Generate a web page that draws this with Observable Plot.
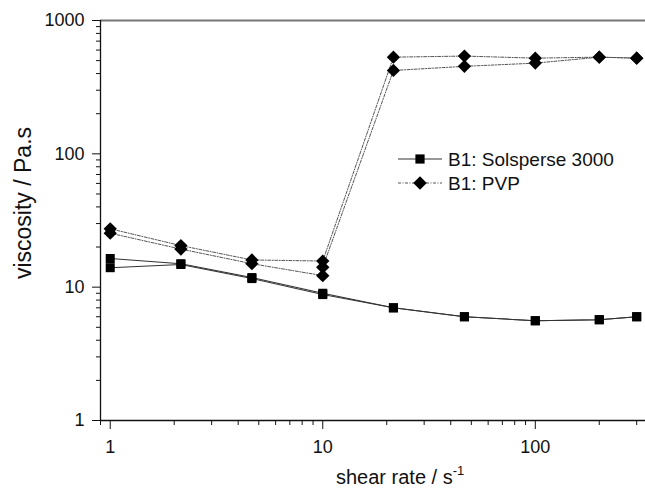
<!DOCTYPE html>
<html>
<head>
<meta charset="utf-8">
<script src="https://cdn.jsdelivr.net/npm/d3@7"></script>
<script src="https://cdn.jsdelivr.net/npm/@observablehq/plot@0.6"></script>
<style>
  html, body { margin: 0; padding: 0; background: white; }
</style>
</head>
<body>
<div id="chart"></div>
<script>
// ---- data ----
const shearRate = [1, 2.15, 4.64, 10, 21.5, 46.4, 100, 200, 300];
const solsperseRun1 = [16.4, 15.0, 11.8, 9.0, 7.0, 6.0, 5.6, 5.7, 6.0];
const solsperseRun2 = [14.0, 14.8, 11.6, 8.8, 7.0, 6.0, 5.6, 5.7, 6.0];
const pvpRate1 = [1, 2.15, 4.64, 10, 21.5, 46.4, 100, 200, 300];
const pvpRun1 = [27.4, 20.5, 16.0, 15.7, 531, 541, 522, 531, 522];
const pvpRate2 = [1, 2.15, 4.64, 10, 10, 21.5, 46.4, 100, 200, 300];
const pvpRun2 = [25.4, 19.3, 15.0, 12.2, 14.1, 422, 453, 479, 531, 522];

const seriesNames = ["B1: Solsperse 3000", "B1: PVP"];
const xDomain = [0.9, 330];
const yDomain = [1, 1000];
const xMajor = [1, 10, 100];
const xMinor = [0.9, 2, 3, 4, 5, 6, 7, 8, 9, 20, 30, 40, 50, 60, 70, 80, 90, 200, 300];
const yMajor = [1, 10, 100, 1000];
const yMinor = [2, 3, 4, 5, 6, 7, 8, 9, 20, 30, 40, 50, 60, 70, 80, 90, 200, 300, 400, 500, 600, 700, 800, 900];
const xLabel = "shear rate / s";
const xLabelSup = "-1";
const yLabel = "viscosity / Pa.s";

// ---- build rows ----
const solsRows = [];
shearRate.forEach((x, i) => solsRows.push({run: "a", x, y: solsperseRun1[i]}));
shearRate.forEach((x, i) => solsRows.push({run: "b", x, y: solsperseRun2[i]}));
const pvpRows = [];
pvpRate1.forEach((x, i) => pvpRows.push({run: "a", x, y: pvpRun1[i]}));
pvpRate2.forEach((x, i) => pvpRows.push({run: "b", x, y: pvpRun2[i]}));

const FONT = "'Liberation Sans', Arial, Helvetica, sans-serif";
const pvpDash = "3,1.5,1,1.5";

const chart = Plot.plot({
  width: 645,
  height: 489,
  marginLeft: 100,
  marginRight: 0,
  marginTop: 20,
  marginBottom: 69,
  style: {fontFamily: FONT, color: "#111", background: "white", overflow: "visible"},
  x: {type: "log", domain: xDomain},
  y: {type: "log", domain: yDomain},
  marks: [
    Plot.ruleY([yDomain[1]], {stroke: "#777", strokeWidth: 2}),
    Plot.axisY(yMajor, {tickSize: 8, tickPadding: 8, fontSize: 18, label: null, tickFormat: d => String(d), stroke: "#111"}),
    Plot.axisY(yMinor, {tickSize: 4, label: null, tickFormat: () => "", stroke: "#111"}),
    Plot.axisX(xMajor, {tickSize: 9, tickPadding: 11, fontSize: 18, label: null, tickFormat: d => String(d), stroke: "#111"}),
    Plot.axisX(xMinor, {tickSize: 5, label: null, tickFormat: () => "", stroke: "#111"}),
    Plot.ruleX([xDomain[0]], {stroke: "#111", strokeWidth: 1.3}),
    Plot.ruleY([yDomain[0]], {stroke: "#111", strokeWidth: 1.3}),
    Plot.line(solsRows, {x: "x", y: "y", z: "run", stroke: "#333", strokeWidth: 1.1}),
    Plot.line(pvpRows, {x: "x", y: "y", z: "run", stroke: "#555", strokeWidth: 1, strokeDasharray: pvpDash}),
    Plot.dot(solsRows, {x: "x", y: "y", symbol: "square", r: 5.1, fill: "black", stroke: "none"}),
    Plot.dot(pvpRows, {x: "x", y: "y", symbol: "diamond2", r: 6, fill: "black", stroke: "none"})
  ]
});

document.getElementById("chart").append(chart);

// ---- axis titles & legend ----
const svg = d3.select(chart);

const xt = svg.append("text")
  .attr("x", 336).attr("y", 484)
  .attr("text-anchor", "start")
  .attr("font-family", FONT).attr("font-size", 20).attr("fill", "#111");
xt.append("tspan").text(xLabel);
xt.append("tspan").attr("dy", -9).attr("font-size", 13).text(xLabelSup);

svg.append("text")
  .attr("transform", "translate(31,203) rotate(-90)")
  .attr("text-anchor", "middle")
  .attr("font-family", FONT).attr("font-size", 23).attr("fill", "#111")
  .text(yLabel);

const leg = svg.append("g");
const rows = [
  {name: seriesNames[0], y: 159, dash: null, stroke: "#333", sym: d3.symbolSquare, size: 85},
  {name: seriesNames[1], y: 183, dash: pvpDash, stroke: "#555", sym: d3.symbolDiamond2, size: 115}
];
rows.forEach(r => {
  const l = leg.append("line").attr("x1", 398).attr("x2", 442).attr("y1", r.y).attr("y2", r.y)
    .attr("stroke", r.stroke).attr("stroke-width", 1.1);
  if (r.dash) l.attr("stroke-dasharray", r.dash);
  leg.append("path").attr("d", d3.symbol(r.sym, r.size)()).attr("transform", `translate(420,${r.y})`).attr("fill", "black");
  leg.append("text").attr("x", 448).attr("y", r.y + 6.5)
    .attr("text-anchor", "start")
    .attr("font-family", FONT).attr("font-size", 19).attr("fill", "#111").text(r.name);
});
</script>
</body>
</html>
